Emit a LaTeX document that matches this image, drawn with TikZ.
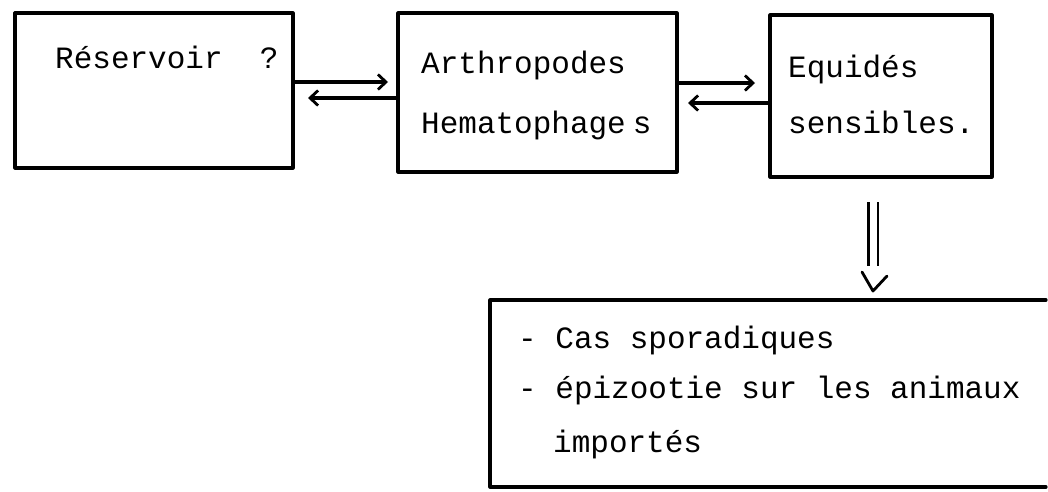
\documentclass[tikz,border=0pt]{standalone}
\usepackage{fontspec}
\newfontfamily\tw{Liberation Mono}
\usetikzlibrary{arrows.meta}
\tikzset{
  boxnode/.style={rectangle, inner sep=0pt, outer sep=0pt},
  boxline/.style={line width=3.2pt, line cap=round, line join=round},
  txt/.style={anchor=base west, inner sep=0pt, font=\tw\fontsize{31}{37}\selectfont},
  arr/.style={line width=3.6pt, -{Straight Barb[length=8pt,width=15pt,line width=2.8pt]}},
}
\begin{document}
\begin{tikzpicture}[x=1pt,y=-1pt]
\useasboundingbox (0,0) rectangle (1048,491);
% boxes
\node[boxnode, minimum width=278pt, minimum height=155pt] (b1) at (154,90.5) {};
\node[boxnode, minimum width=279pt, minimum height=159pt] (b2) at (537.5,92.5) {};
\node[boxnode, minimum width=222pt, minimum height=162pt] (b3) at (881,96) {};
\node[boxnode, minimum width=556pt, minimum height=187pt] (bb) at (768,393.5) {};
\draw[boxline] (b1.north west) rectangle (b1.south east);
\draw[boxline] (b2.north west) rectangle (b2.south east);
\draw[boxline] (b3.north west) rectangle (b3.south east);
\draw[boxline] (bb.north east) -- (bb.north west) -- (bb.south west) -- (bb.south east);
% texts
\node[txt] (t1) at (55,68) {Réservoir~~?};
\node[txt] (t2) at (421,73) {Arthropodes};
\node[txt] (t3) at (421,133) {Hematophage\hspace{7pt}s};
\node[txt] (t4) at (788,77) {Equidés};
\node[txt] (t5) at (788,133) {sensibles.};
\node[txt] (t6) at (518,348) {- Cas sporadiques};
\node[txt] (t7) at (518,398) {- épizootie sur les animaux};
\node[txt] (t8) at (553,452) {importés};
% horizontal arrows
\coordinate (a1e) at (388,82);
\coordinate (a2e) at (308,98);
\coordinate (a3e) at (755,83);
\coordinate (a4e) at (688,103);
\draw[arr] (b1.east |- a1e) -- (a1e);
\draw[arr] (b2.west |- a2e) -- (a2e);
\draw[arr] (b2.east |- a3e) -- (a3e);
\draw[arr] (b3.west |- a4e) -- (a4e);
% down double arrow
\coordinate (d1) at (873,202);
\coordinate (d2) at (873,266);
\coordinate (dtip) at (873,291);
\draw[line width=2.6pt, double, double distance=7pt] (d1) -- (d2);
\draw[line width=2.8pt, line cap=round, line join=round] ([xshift=-11pt,yshift=19pt]dtip) -- (dtip) -- ([xshift=14pt,yshift=15pt]dtip);
\end{tikzpicture}
\end{document}
